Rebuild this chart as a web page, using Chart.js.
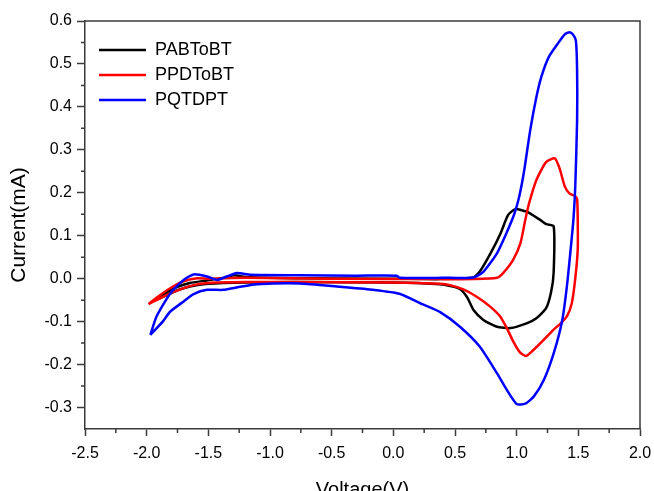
<!DOCTYPE html>
<html>
<head>
<meta charset="utf-8">
<script src="https://cdn.jsdelivr.net/npm/chart.js@4.4.0/dist/chart.umd.min.js"></script>
<style>
  html, body { margin: 0; padding: 0; background: #fff; }
</style>
</head>
<body>
<canvas id="cvChart" width="654" height="491"></canvas>
<script>
const seriesNames = ['PABToBT', 'PPDToBT', 'PQTDPT'];
const seriesColors = ['#000000', '#ff0000', '#0000ff'];

// PABToBT loop
const pabVoltage = [-1.94, -1.85, -1.75, -1.65, -1.51, -1.36, -1.29, -1.20, -0.80, 0.00,
  0.38, 0.65, 0.70, 0.79, 0.87, 0.93, 0.99, 1.08, 1.19, 1.24,
  1.30, 1.30, 1.28, 1.24, 1.16, 1.08, 0.95, 0.84, 0.73, 0.65,
  0.60, 0.54, 0.46, 0.38, 0.00, -0.80, -1.20, -1.50, -1.65, -1.75,
  -1.85, -1.94];
const pabCurrent = [-0.051, -0.034, -0.019, -0.010, -0.004, 0.003, 0.008, 0.004, 0.001, 0.000,
  -0.001, 0.003, 0.016, 0.060, 0.106, 0.148, 0.162, 0.156, 0.137, 0.127,
  0.122, 0.015, -0.030, -0.068, -0.092, -0.104, -0.115, -0.112, -0.096, -0.073,
  -0.044, -0.024, -0.017, -0.013, -0.009, -0.008, -0.009, -0.012, -0.018, -0.027,
  -0.040, -0.051];

// PPDToBT loop
const ppdVoltage = [-1.985, -1.89, -1.78, -1.70, -1.59, -1.50, -1.20, -0.50, 0.38, 0.65,
  0.84, 0.89, 0.97, 1.03, 1.07, 1.10, 1.16, 1.24, 1.31, 1.35,
  1.39, 1.43, 1.47, 1.49, 1.495, 1.495, 1.475, 1.447, 1.407, 1.353,
  1.298, 1.217, 1.136, 1.077, 1.028, 0.974, 0.920, 0.866, 0.785, 0.676,
  0.568, 0.460, 0.379, 0.00, -0.80, -1.20, -1.50, -1.62, -1.80, -1.90,
  -1.985];
const ppdCurrent = [-0.059, -0.038, -0.017, -0.006, 0.001, 0.000, 0.002, 0.000, -0.001, -0.001,
  0.002, 0.013, 0.043, 0.082, 0.137, 0.175, 0.230, 0.272, 0.280, 0.255,
  0.215, 0.198, 0.193, 0.185, 0.140, 0.067, 0.000, -0.057, -0.088, -0.105,
  -0.119, -0.143, -0.166, -0.180, -0.172, -0.147, -0.115, -0.088, -0.065, -0.042,
  -0.025, -0.015, -0.012, -0.009, -0.008, -0.008, -0.010, -0.015, -0.033, -0.047,
  -0.059];

// PQTDPT loop
const pqtVoltage = [-1.97, -1.92, -1.81, -1.70, -1.62, -1.51, -1.43, -1.35, -1.27, -1.16,
  -0.76, -0.30, 0.03, 0.05, 0.40, 0.65, 0.73, 0.84, 0.92, 0.98,
  1.02, 1.06, 1.11, 1.16, 1.20, 1.26, 1.33, 1.39, 1.43, 1.455,
  1.48, 1.49, 1.49, 1.475, 1.46, 1.445, 1.41, 1.37, 1.30, 1.22,
  1.14, 1.07, 1.00, 0.92, 0.84, 0.70, 0.54, 0.38, 0.24, 0.05,
  -0.16, -0.43, -0.76, -1.11, -1.24, -1.38, -1.51, -1.62, -1.70, -1.81,
  -1.87, -1.97];
const pqtCurrent = [-0.131, -0.088, -0.035, -0.003, 0.010, 0.005, -0.003, 0.005, 0.013, 0.009,
  0.008, 0.007, 0.007, 0.002, 0.002, 0.003, 0.016, 0.059, 0.108, 0.150,
  0.190, 0.250, 0.346, 0.423, 0.470, 0.516, 0.546, 0.569, 0.574, 0.569,
  0.555, 0.485, 0.369, 0.214, 0.137, 0.090, -0.011, -0.096, -0.174, -0.236,
  -0.274, -0.291, -0.292, -0.259, -0.220, -0.158, -0.112, -0.078, -0.060, -0.035,
  -0.026, -0.019, -0.011, -0.013, -0.019, -0.026, -0.026, -0.036, -0.053, -0.077,
  -0.100, -0.131];

const xTicks = [-2.5, -2.0, -1.5, -1.0, -0.5, 0.0, 0.5, 1.0, 1.5, 2.0];
const xMinorTicks = [-2.25, -1.75, -1.25, -0.75, -0.25, 0.25, 0.75, 1.25, 1.75];
const yTicks = [-0.3, -0.2, -0.1, 0.0, 0.1, 0.2, 0.3, 0.4, 0.5, 0.6];
const yMinorTicks = [-0.25, -0.15, -0.05, 0.05, 0.15, 0.25, 0.35, 0.45, 0.55];

const fontFamily = '"Liberation Sans", Arial, sans-serif';
const axisColor = '#3a3a3a';

function toPoints(vs, is) {
  return vs.map((v, i) => ({x: v, y: is[i]}));
}

const loops = [
  toPoints(pabVoltage, pabCurrent),
  toPoints(ppdVoltage, ppdCurrent),
  toPoints(pqtVoltage, pqtCurrent)
];

// top/right frame + minor tick marks, legend nudged into the corner
const frameTicks = {
  id: 'frameTicks',
  afterLayout(chart) {
    chart.legend.left += 7;
    chart.legend.top += 34;
  },
  afterDraw(chart) {
    const {ctx, chartArea: a} = chart;
    const x = chart.scales.x, y = chart.scales.y;
    ctx.save();
    ctx.strokeStyle = axisColor;
    ctx.lineWidth = 1.5;
    ctx.beginPath();
    ctx.moveTo(a.left, a.top);
    ctx.lineTo(a.right, a.top);
    ctx.lineTo(a.right, a.bottom);
    xMinorTicks.forEach(v => {
      const px = x.getPixelForValue(v);
      ctx.moveTo(px, a.bottom);
      ctx.lineTo(px, a.bottom + 4);
    });
    yMinorTicks.forEach(v => {
      const py = y.getPixelForValue(v);
      ctx.moveTo(a.left, py);
      ctx.lineTo(a.left - 4, py);
    });
    ctx.stroke();
    ctx.restore();
  }
};

const ctx = document.getElementById('cvChart').getContext('2d');
const cvChart = new Chart(ctx, {
  type: 'scatter',
  data: {
    datasets: seriesNames.map((name, i) => ({
      label: name,
      data: loops[i],
      showLine: true,
      borderColor: seriesColors[i],
      backgroundColor: seriesColors[i],
      borderWidth: 2.5,
      pointRadius: 0,
      tension: 0.2,
      order: 3 - i
    }))
  },
  options: {
    responsive: false,
    animation: false,
    layout: {padding: {top: 21, right: 14, left: 0, bottom: 0}},
    plugins: {
      tooltip: {enabled: false},
      legend: {
        position: 'chartArea',
        align: 'start',
        labels: {
          usePointStyle: true,
          pointStyle: 'line',
          pointStyleWidth: 47,
          padding: 7,
          color: '#000',
          font: {family: fontFamily, size: 18},
          sort: (a, b) => a.datasetIndex - b.datasetIndex
        }
      }
    },
    scales: {
      x: {
        type: 'linear',
        min: -2.5,
        max: 2.0,
        afterBuildTicks: scale => { scale.ticks = xTicks.map(v => ({value: v})); },
        afterFit: scale => {
          scale.height = 62;
          scale.paddingLeft = 0;
          scale.paddingRight = 0;
        },
        ticks: {
          color: '#000',
          padding: 8,
          maxRotation: 0,
          font: {family: fontFamily, size: 16},
          callback: v => Number(v).toFixed(1)
        },
        grid: {drawOnChartArea: false, tickLength: 7, tickColor: axisColor, tickWidth: 1.5},
        border: {color: axisColor, width: 1.5},
        title: {
          display: true,
          text: 'Voltage(V)',
          color: '#000',
          font: {family: fontFamily, size: 20, lineHeight: 1},
          padding: {top: 0, bottom: -9}
        }
      },
      y: {
        type: 'linear',
        min: -0.35,
        max: 0.6,
        afterBuildTicks: scale => { scale.ticks = yTicks.map(v => ({value: v})); },
        afterFit: scale => {
          scale.width = 85;
          scale.paddingTop = 0;
          scale.paddingBottom = 0;
        },
        ticks: {
          color: '#000',
          padding: 5,
          font: {family: fontFamily, size: 16},
          callback: v => Number(v).toFixed(1)
        },
        grid: {drawOnChartArea: false, tickLength: 8, tickColor: axisColor, tickWidth: 1.5},
        border: {color: axisColor, width: 1.5},
        title: {
          display: true,
          text: 'Current(mA)',
          color: '#000',
          font: {family: fontFamily, size: 21},
          padding: {top: 7, bottom: 0}
        }
      }
    }
  },
  plugins: [frameTicks]
});
</script>
</body>
</html>
